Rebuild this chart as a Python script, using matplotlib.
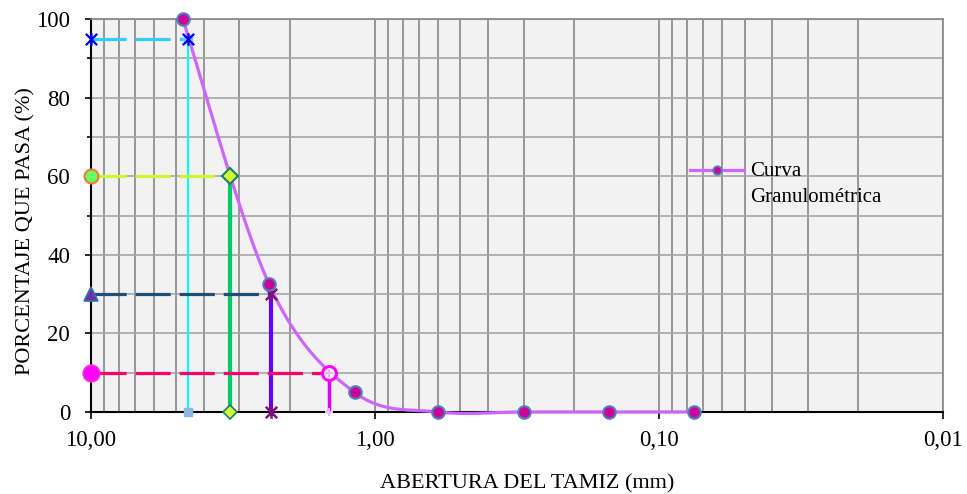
import numpy as np
import matplotlib
matplotlib.use("Agg")
import matplotlib.pyplot as plt
from matplotlib.path import Path
from matplotlib.ticker import FixedLocator, NullFormatter, FuncFormatter

plt.rcParams['font.family'] = ['Liberation Serif', 'DejaVu Serif']

# curva granulometrica
tamiz_mm = [4.75, 2.36, 1.18, 0.60, 0.30, 0.15, 0.075]
pasa_pct = [100.0, 32.5, 5.0, 0.0, 0.0, 0.0, 0.0]

# diametros caracteristicos
d_pct = [95, 60, 30, 10]
d_mm = [4.57, 3.25, 2.33, 1.45]

x_ticks = [10, 1, 0.1, 0.01]
x_ticklabels = ["10,00", "1,00", "0,10", "0,01"]
y_ticks = [0, 20, 40, 60, 80, 100]

# asterisk marker like excel's "star"
star = Path([(-1, -1), (1, 1), (-1, 1), (1, -1), (0, -1.1), (0, 1.1)],
            [Path.MOVETO, Path.LINETO, Path.MOVETO, Path.LINETO, Path.MOVETO, Path.LINETO])


def smooth(xs, ys, n=40):
    # excel-like smoothed line: cubic bezier, catmull-rom control points (log x)
    u = np.log10(xs)
    v = np.asarray(ys, float)
    pu, pv = [], []
    m = len(u)
    for i in range(m - 1):
        i0, i3 = max(i - 1, 0), min(i + 2, m - 1)
        p1 = np.array([u[i], v[i]]); p2 = np.array([u[i + 1], v[i + 1]])
        p0 = np.array([u[i0], v[i0]]); p3 = np.array([u[i3], v[i3]])
        c1 = p1 + (p2 - p0) / 6
        c2 = p2 - (p3 - p1) / 6
        t = np.linspace(0, 1, n)[:, None]
        b = (1 - t) ** 3 * p1 + 3 * (1 - t) ** 2 * t * c1 + 3 * (1 - t) * t ** 2 * c2 + t ** 3 * p2
        pu.extend(b[:, 0]); pv.extend(b[:, 1])
    return 10 ** np.array(pu), np.array(pv)


fig = plt.figure(figsize=(9.67, 4.94), dpi=100)
ax = fig.add_axes([0.0941, 0.166, 0.8811, 0.7955])
ax.set_facecolor('#f2f2f2')

ax.set_xscale('log')
ax.set_xlim(10, 0.01)
ax.set_ylim(0, 100)

# grid
ax.xaxis.set_major_locator(FixedLocator(x_ticks))
ax.xaxis.set_minor_locator(FixedLocator([k * 10.0 ** e for e in (-2, -1, 0) for k in range(2, 10)]))
ax.xaxis.set_major_formatter(FuncFormatter(lambda v, p: x_ticklabels[x_ticks.index(v)] if v in x_ticks else ""))
ax.xaxis.set_minor_formatter(NullFormatter())
ax.set_yticks(y_ticks)
ax.yaxis.set_minor_locator(FixedLocator([10, 30, 50, 70, 90]))
ax.grid(True, which='both', axis='x', color='#868686', lw=1.2)
ax.grid(True, which='both', axis='y', color='#a6a6a6', lw=1.2)
ax.set_axisbelow(True)

ax.tick_params(axis='x', which='major', direction='out', length=5, width=1.2, labelsize=16.5, pad=8)
ax.tick_params(axis='x', which='minor', length=0)
ax.tick_params(axis='y', which='major', direction='out', length=4, width=1.2, labelsize=16.5, pad=11)
ax.tick_params(axis='y', which='minor', direction='out', length=3, width=1.2)
for s in ('left', 'bottom'):
    ax.spines[s].set_color('black'); ax.spines[s].set_linewidth(1.5)
for s in ('top', 'right'):
    ax.spines[s].set_color('#868686'); ax.spines[s].set_linewidth(1.2)

# D lines
xl = x_ticks[0]
styles = [
    # (hcolor, vcolor, vlw, left marker kw, right marker kw, bottom marker kw)
    ('#33ccff', '#00ffff', 1.5,
     dict(marker=star, ms=9, mec='#0000ff', mfc='none', mew=1.6),
     dict(marker=star, ms=9, mec='#0000ff', mfc='none', mew=1.6),
     dict(marker='s', ms=6, mfc='#8db4e2', mec='#8db4e2')),
    ('#ccf533', '#00cc66', 3.0,
     dict(marker='o', ms=10, mfc='#66ff66', mec='#ed7d31', mew=1.5),
     dict(marker='D', ms=8, mfc='#ccff33', mec='#1f7a6e', mew=1.5),
     dict(marker='D', ms=7, mfc='#ccff33', mec='#1f7a6e', mew=1.2)),
    ('#1f4e79', '#6600ff', 3.0,
     dict(marker='^', ms=10, mfc='#7030a0', mec='#2e75b6', mew=1.2),
     dict(marker=star, ms=9, mec='#7f0f7f', mfc='none', mew=1.8),
     dict(marker=star, ms=9, mec='#7f0f7f', mfc='none', mew=1.8)),
    ('#ff0066', '#dd00ff', 2.5,
     dict(marker='o', ms=12, mfc='#ff00ff', mec='#ff33cc', mew=1.2),
     dict(marker='o', ms=10, mfc='#fff0ff', mec='#ff00ff', mew=2.2),
     dict(marker='+', ms=6, mec='#e6b8ff', mew=1.5)),
]
for p, d, (hc, vc, vlw, lk, rk, bk) in zip(d_pct, d_mm, styles):
    ax.plot([xl, d], [p, p], color=hc, lw=2.3, dashes=(11, 2.8), zorder=3, solid_capstyle='butt')
    ax.plot([d, d], [p, 0], color=vc, lw=vlw, zorder=3)
    ax.plot([d], [0], ls='none', zorder=5, clip_on=False, **bk)
    ax.plot([xl], [p], ls='none', zorder=6, clip_on=False, **lk)
    ax.plot([d], [p], ls='none', zorder=6, clip_on=False, **rk)
# top markers of the vertical series
ax.plot([d_mm[0]], [d_pct[0]], ls='none', marker='s', ms=6, mfc='#8db4e2', mec='#8db4e2', zorder=5)
ax.plot([d_mm[3]], [d_pct[3]], ls='none', marker='+', ms=6, mec='#e6b8ff', mew=1.5, zorder=7)

# curva
sx, sy = smooth(tamiz_mm, pasa_pct)
ax.plot(sx, sy, color='#cc66ff', lw=2.3, zorder=4, clip_on=False)
ax.plot(tamiz_mm, pasa_pct, ls='none', marker='o', ms=9, mfc='#cc0099', mec='#4f81bd', mew=1.5,
        zorder=8, clip_on=False)
h, = ax.plot([], [], color='#cc66ff', lw=2.3, marker='o', ms=6, mfc='#cc0099', mec='#4f81bd', mew=1.3)
leg = ax.legend([h], ["Curva\nGranulométrica"], loc='upper left', bbox_to_anchor=(0.703, 0.635),
                frameon=False, fontsize=15, handlelength=2.6, handletextpad=0.3, borderaxespad=0,
                borderpad=0)
leg.get_texts()[0].set_linespacing(1.45)
# put the handle next to the first line of the label
leg._legend_handle_box.get_children()[0].get_children()[0].align = "top"

ax.set_xlabel("ABERTURA DEL TAMIZ (mm)", fontsize=16)
ax.set_ylabel("PORCENTAJE QUE PASA (%)", fontsize=16)
ax.xaxis.set_label_coords(0.512, -0.158)
ax.yaxis.set_label_coords(-0.065, 0.46)

fig.savefig("out.png", dpi=100)
